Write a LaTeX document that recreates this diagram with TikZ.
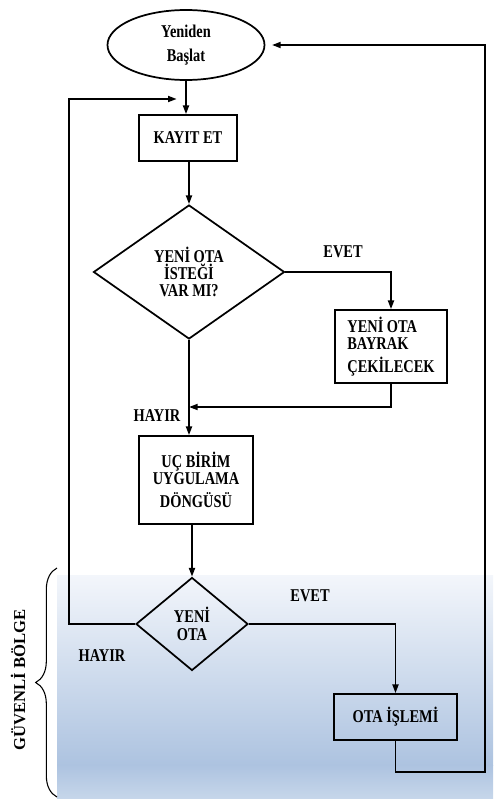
\documentclass[tikz,border=0pt]{standalone}
\usepackage{fontspec}
\setmainfont{Liberation Serif}
\newfontfamily\flowfont{Liberation Serif}[FakeStretch=0.8]
\usetikzlibrary{arrows.meta, shapes.geometric, decorations.pathreplacing}

\definecolor{bolgeA}{HTML}{F3F6FB}
\definecolor{bolgeB}{HTML}{ADC3E0}
\definecolor{bolgeC}{HTML}{C6D6EA}

\begin{document}
\begin{tikzpicture}[x=0.75pt, y=-0.75pt, >={Triangle[length=6.5pt, width=4.5pt]}, line width=1.3pt,
    every node/.style={font=\flowfont\bfseries\fontsize{13.5}{12.5}\selectfont},
    kutu/.style={draw, rectangle, align=center, inner sep=2pt},
    karar/.style={draw, diamond, align=center, inner sep=0pt},
    etiket/.style={inner sep=0pt}]
    \useasboundingbox (0,0) rectangle (493,806);

    % Guvenli bolge (arka plan)
    \shade[top color=bolgeA, bottom color=bolgeB] (57,575) rectangle (493,765);
    \shade[top color=bolgeB, bottom color=bolgeC] (57,765) rectangle (493,798);

    % Kutular ve kararlar
    \node[draw, ellipse, minimum width=117.75pt, minimum height=52.5pt, align=center,
          font=\flowfont\bfseries\fontsize{13.5}{18}\selectfont] (basla) at (186,45) {Yeniden\\Başlat};
    \node[kutu, minimum width=73.5pt, minimum height=34.5pt] (kayit) at (188,138) {KAYIT ET};
    \node[karar, minimum width=143.25pt, minimum height=100.5pt] (istek) at (189,272) {YENİ OTA\\İSTEĞİ\\VAR MI?};
    \node[kutu, minimum width=84pt, minimum height=54.75pt, align=left] (bayrak) at (391,346.5) {YENİ OTA\\BAYRAK\\[5pt]ÇEKİLECEK};
    \node[kutu, minimum width=85.5pt, minimum height=66pt] (uc) at (196,480) {UÇ BİRİM\\UYGULAMA\\[5pt]DÖNGÜSÜ};
    \node[karar, minimum width=84pt, minimum height=69.75pt,
          font=\flowfont\bfseries\fontsize{13.5}{13}\selectfont] (yeniota) at (192,624) {YENİ\\OTA};
    \node[kutu, minimum width=92.25pt, minimum height=34.5pt] (islem) at (395.5,717) {OTA İŞLEMİ};

    % Etiketler
    \node[etiket] (evet1) at (343,252) {EVET};
    \node[etiket] (hayir1) at (157,416) {HAYIR};
    \node[etiket] (evet2) at (310,596) {EVET};
    \node[etiket] (hayir2) at (102,656) {HAYIR};

    % Donus noktalari
    \coordinate (solray) at (69,0);
    \coordinate (sagray) at (485,772);
    \coordinate (birles1) at (186,99);
    \coordinate (birles2) at (189,407);

    % Baglantilar
    \draw[->] (basla.south) -- (basla.south |- kayit.north);
    \draw[->] (istek.north |- kayit.south) -- (istek.north);
    \draw[->] (istek.east) -| (bayrak.north);
    \draw[->] (bayrak.south) |- (birles2);
    \draw[->] (istek.south) -- (istek.south |- uc.north);
    \draw[->] (yeniota.north |- uc.south) -- (yeniota.north);
    \draw[->] (yeniota.east) -| (islem.north);
    \draw[->, shorten >=7pt] (yeniota.west) -| (solray |- birles1) -- (birles1);
    \draw[->, shorten >=5pt] (islem.south) |- (sagray) |- (basla.east);

    % Guvenli bolge ayraci
    \draw[line width=0.8pt, decorate, decoration={brace, amplitude=16pt}] (57,797) -- (57,568);
    \node[rotate=90, font=\bfseries\fontsize{12.5}{14}\selectfont] (bolge) at (18,680) {GÜVENLİ BÖLGE};
\end{tikzpicture}
\end{document}
